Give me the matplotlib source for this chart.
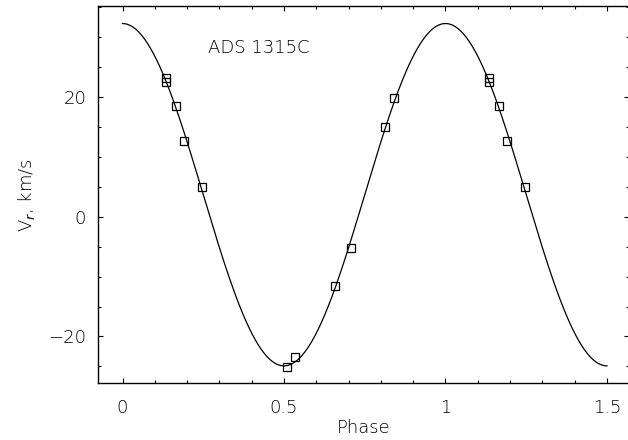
import numpy as np
import matplotlib
matplotlib.use("Agg")
import matplotlib.pyplot as plt
from matplotlib.ticker import MultipleLocator

gamma = 3.65      # systemic velocity, km/s
K = 28.55         # semi-amplitude, km/s

# Observed radial velocities
obs_phase = [0.135, 0.135, 0.167, 0.191, 0.247, 0.510, 0.535, 0.658, 0.708, 0.814, 0.842]
obs_vr = [23.1, 22.5, 18.45, 12.6, 4.9, -25.05, -23.5, -11.55, -5.2, 15.0, 19.8]

star_name = "ADS 1315C"
xticks = [0, 0.5, 1, 1.5]
yticks = [-20, 0, 20]

plt.rcParams['font.family'] = ['DejaVu Sans']
fig = plt.figure(figsize=(6.28, 4.40), dpi=100)
ax = fig.add_axes([0.156, 0.129, 0.846, 0.857])

ph = np.linspace(0, 1.5, 600)
ax.plot(ph, gamma + K * np.cos(2 * np.pi * ph), color='black', lw=0.9)

op = np.array(obs_phase)
ov = np.array(obs_vr)
mask = op + 1 <= 1.5
allp = np.concatenate([op, op[mask] + 1])
allv = np.concatenate([ov, ov[mask]])
ax.plot(allp, allv, 's', mfc='none', mec='black', ms=6, mew=0.9)

ax.set_xlim(-0.076, 1.569)
ax.set_ylim(-27.8, 35.1)
ax.set_xticks(xticks)
ax.set_xticklabels(['0', '0.5', '1', '1.5'])
ax.set_yticks(yticks)
ax.set_yticklabels(['\u221220', '0', '20'])
ax.xaxis.set_minor_locator(MultipleLocator(0.1))
ax.yaxis.set_minor_locator(MultipleLocator(5))
ax.tick_params(which='both', direction='in', top=True, right=True, width=0.8,
               labelsize=13, colors='black')
ax.tick_params(which='major', length=3.5)
ax.tick_params(which='minor', length=2.2)
ax.tick_params(axis='x', which='major', pad=11.5)
ax.tick_params(axis='y', which='major', pad=8.5)
for lab in ax.get_xticklabels() + ax.get_yticklabels():
    lab.set_fontweight('light')
for s in ax.spines.values():
    s.set_linewidth(1.0)

ax.set_xlabel('Phase', fontsize=13, fontweight='light', labelpad=1)
ax.set_ylabel(r'V$_r$, km/s', fontsize=13, fontweight='light', labelpad=8)
ax.text(0.207, 0.888, star_name, transform=ax.transAxes, fontsize=13,
        fontweight='light', va='center', ha='left')

fig.savefig('out.png', dpi=100)
